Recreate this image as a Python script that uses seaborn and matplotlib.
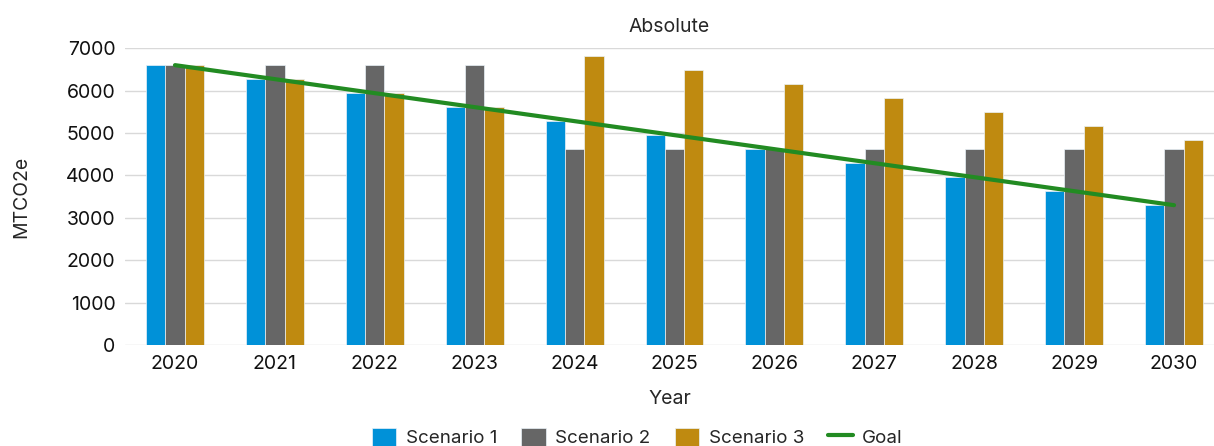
import numpy as np
import pandas as pd
import matplotlib
matplotlib.use("Agg")
import matplotlib.pyplot as plt
import seaborn as sns

years = [str(y) for y in range(2020, 2031)]
scenario_1 = [6600, 6270, 5940, 5610, 5280, 4950, 4620, 4290, 3960, 3630, 3300]
scenario_2 = [6600, 6600, 6600, 6600, 4620, 4620, 4620, 4620, 4620, 4620, 4620]
scenario_3 = [6600, 6270, 5940, 5610, 6810, 6480, 6150, 5820, 5490, 5160, 4830]
goal = [6600, 6270, 5940, 5610, 5280, 4950, 4620, 4290, 3960, 3630, 3300]

colors = ["#0091D8", "#666666", "#BF8A10"]

df = pd.DataFrame({
    "Year": years * 3,
    "MTCO2e": scenario_1 + scenario_2 + scenario_3,
    "Series": ["Scenario 1"] * 11 + ["Scenario 2"] * 11 + ["Scenario 3"] * 11,
})

sns.set_style("white")
plt.rcParams['font.family'] = ['Inter', 'DejaVu Sans']

fig = plt.figure(figsize=(12.14, 4.46), dpi=100)
ax = fig.add_axes([0.103, 0.226, 0.897, 0.666])

sns.barplot(data=df, x="Year", y="MTCO2e", hue="Series", palette=colors,
            saturation=1, width=0.58, edgecolor="#EAF2F8", linewidth=0.5,
            ax=ax, zorder=2)
ax.plot(np.arange(len(years)), goal, color="#228B22", linewidth=3,
        label="Goal", zorder=3, solid_capstyle="round")

ax.set_ylim(0, 7000)
ax.set_xlim(-0.5, 10.4)
ax.set_yticks(range(0, 7001, 1000))
ax.yaxis.grid(True, color="#D9D9D9", linewidth=1)
ax.set_axisbelow(True)
for s in ax.spines.values():
    s.set_visible(False)
ax.tick_params(axis="both", length=0, labelsize=14, colors="#111111", pad=7)

ax.set_title("Absolute", fontsize=14, pad=12)
ax.set_xlabel("Year", fontsize=14, labelpad=12)
ax.set_ylabel("MTCO2e", fontsize=14, labelpad=26)

handles, labels = ax.get_legend_handles_labels()
if ax.legend_:
    ax.legend_.remove()
fig.legend(handles, labels, loc="lower center", bbox_to_anchor=(0.525, -0.04),
           ncol=4, frameon=False, fontsize=13.5, handlelength=1.3,
           handleheight=1.1, columnspacing=1.3, handletextpad=0.5)

fig.savefig("out.png", dpi=100)
